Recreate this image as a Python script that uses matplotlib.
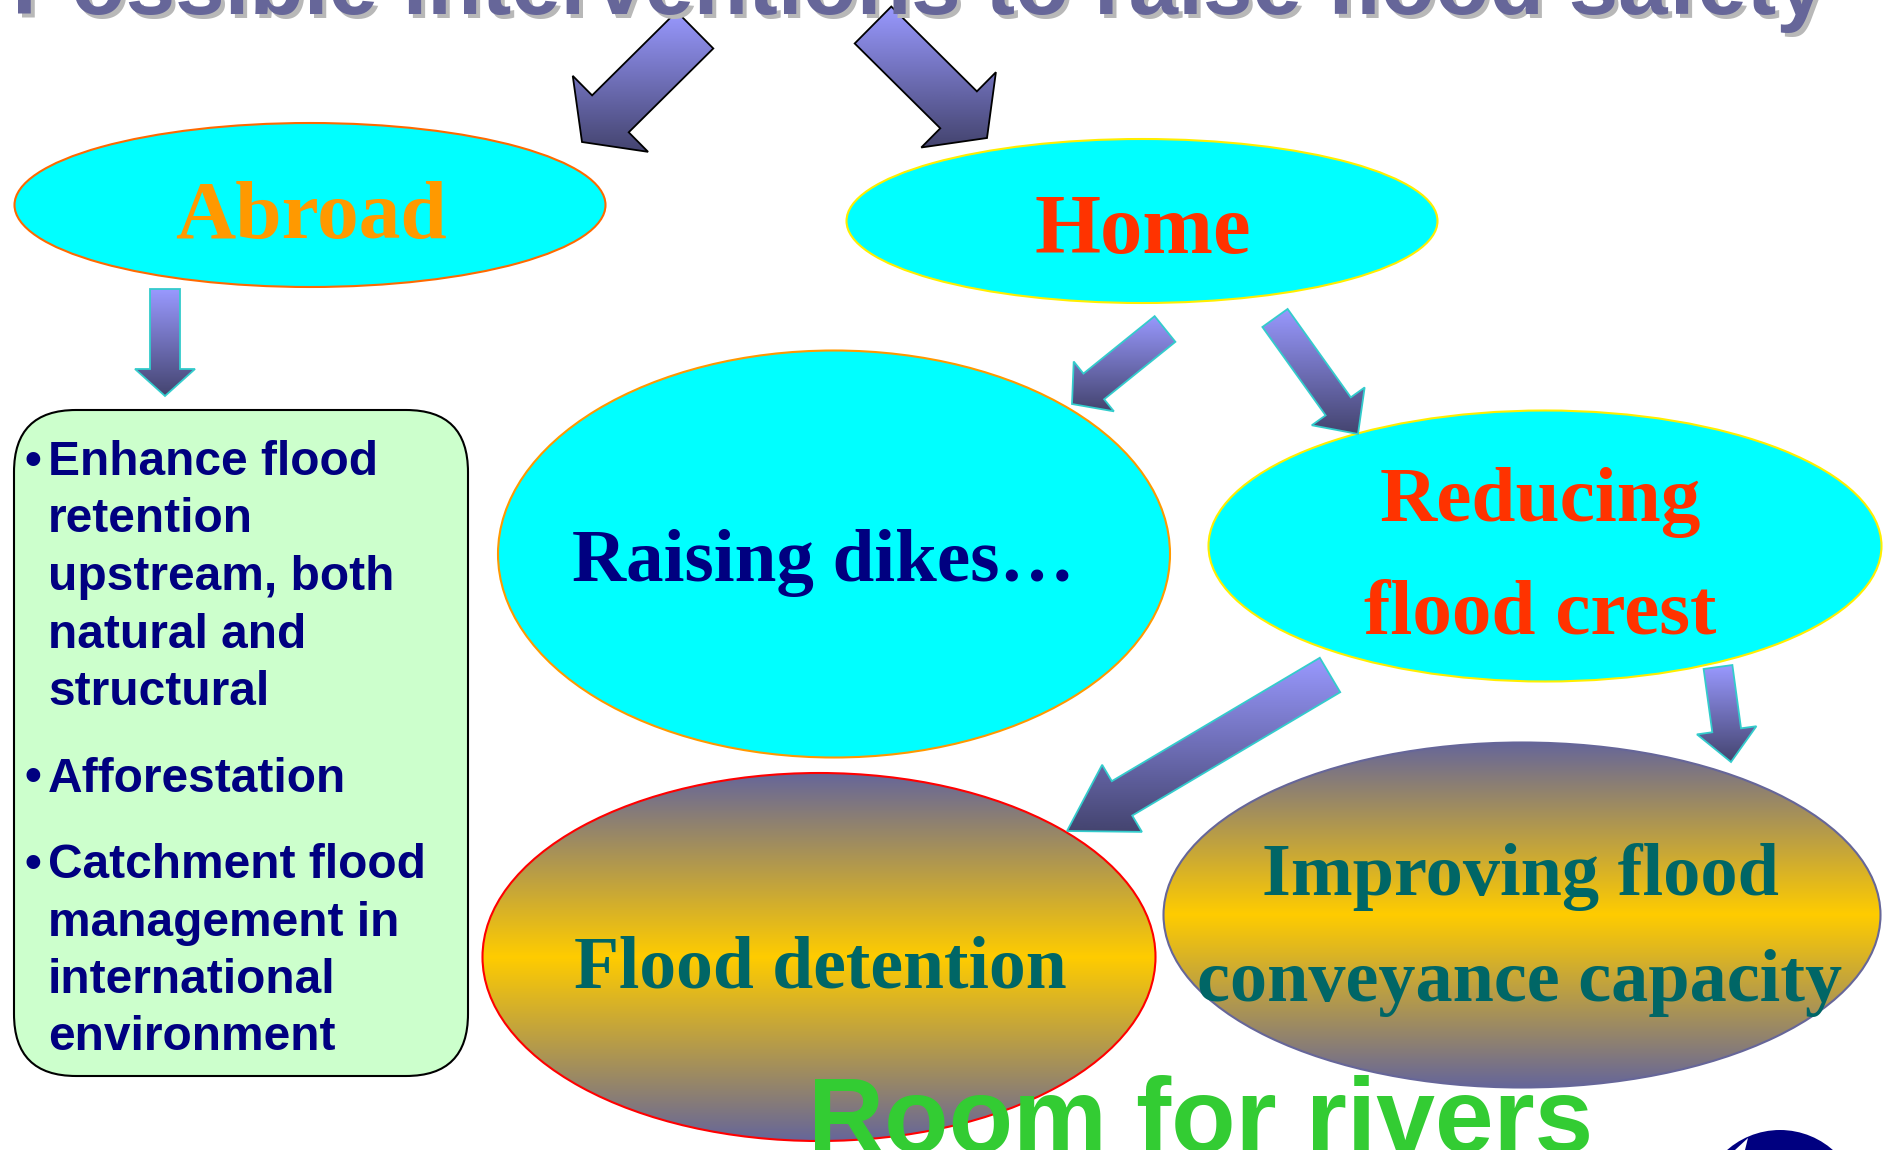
import numpy as np
import matplotlib.pyplot as plt
from matplotlib.patches import Ellipse, Polygon, FancyBboxPatch, Circle, Wedge
from matplotlib.colors import LinearSegmentedColormap

# text content
title = "Possible interventions to raise flood safety"
footer = "Room for rivers"
node_labels = ["Abroad", "Home", "Raising dikes…", ["Reducing", "flood crest"],
               "Flood detention", ["Improving flood", "conveyance capacity"]]
bullet_items = [["Enhance flood", "retention", "upstream, both", "natural and", "structural"],
                ["Afforestation"],
                ["Catchment flood", "management in", "international", "environment"]]

# layout (pixel coords, y down)
W, H = 1891, 1150
node_geom = [(310, 205, 591, 164), (1142, 221, 591, 164), (834, 554, 672, 407),
             (1545, 546, 673, 271), (819, 957, 673, 368), (1522, 915, 717, 345)]
node_edge = ["#ff6a00", "#ffee00", "#ff9900", "#ffee00", "#ff0000", "#666699"]
node_fill = ["#00ffff", "#00ffff", "#00ffff", "#00ffff", "grad", "grad"]
node_tcol = ["#ff9900", "#ff3300", "#000080", "#ff3300", "#006666", "#006666"]
node_fs = [60, 61, 54, 57, 53, 53.5]
node_tx = [311, 1143, 823, 1540, 820, 1520]
node_base = [[238], [253], [581], [521, 633], [987], [895, 1001]]

# arrows: tail, tip, shaft width, head width, head length, edge colour
arrows = [((695, 30), (582, 142), 52, 107, 40, "black"),
          ((873, 25), (987, 138), 52, 106, 40, "black"),
          ((165, 289), (165, 396), 30, 60, 27, "#33cccc"),
          ((1165, 329), (1072, 404), 33, 64, 28, "#33cccc"),
          ((1275, 318), (1358, 434), 31, 65, 34, "#33cccc"),
          ((1330, 675), (1067, 831), 40, 78, 64, "#33cccc"),
          ((1718, 667), (1731, 762), 29, 60, 32, "#33cccc")]


def grad_fill(ax, patch, colors, stops, x0, x1, y0, y1, z):
    cmap = LinearSegmentedColormap.from_list("g", list(zip(stops, colors)))
    g = np.linspace(0, 1, 256).reshape(-1, 1)
    im = ax.imshow(g, cmap=cmap, extent=(x0, x1, y1, y0), origin="upper",
                   aspect="auto", zorder=z, interpolation="bilinear")
    im.set_clip_path(patch)


def block_arrow(tail, tip, sw, hw, hl):
    tail = np.array(tail, float)
    tip = np.array(tip, float)
    d = tip - tail
    u = d / np.linalg.norm(d)
    n = np.array([-u[1], u[0]])
    base = tip - u * hl
    return np.array([tail + n * sw / 2, base + n * sw / 2, base + n * hw / 2, tip,
                     base - n * hw / 2, base - n * sw / 2, tail - n * sw / 2])


fig = plt.figure(figsize=(W / 100, H / 100), dpi=100)
ax = fig.add_axes([0, 0, 1, 1])
ax.axis("off")

# title with shadow, mostly cut by the top edge
for dx, col in [(4, "#b8b8b8"), (0, "#666699")]:
    ax.text(12 + dx, 14 + dx, title, fontsize=64, fontweight="bold", family="Liberation Sans",
            color=col, ha="left", va="baseline", zorder=5)

# ellipses
for i, (cx, cy, w, h) in enumerate(node_geom):
    if node_fill[i] == "grad":
        e = Ellipse((cx, cy), w, h, facecolor="none", edgecolor=node_edge[i], lw=1.5, zorder=2.1)
        ax.add_patch(e)
        grad_fill(ax, e, ["#666699", "#ffcc00", "#666699"], [0, 0.5, 1],
                  cx - w / 2, cx + w / 2, cy - h / 2, cy + h / 2, 2)
    else:
        ax.add_patch(Ellipse((cx, cy), w, h, facecolor=node_fill[i], edgecolor=node_edge[i],
                             lw=1.5, zorder=2))
    lab = node_labels[i]
    lines = lab if isinstance(lab, list) else [lab]
    for line, yb in zip(lines, node_base[i]):
        ax.text(node_tx[i], yb, line, fontsize=node_fs[i], fontweight="bold",
                family="Liberation Serif", color=node_tcol[i], ha="center", va="baseline", zorder=4)

# arrows
for tail, tip, sw, hw, hl, ec in arrows:
    pts = block_arrow(tail, tip, sw, hw, hl)
    p = Polygon(pts, closed=True, facecolor="none", edgecolor=ec, lw=1.3, zorder=3.1)
    ax.add_patch(p)
    grad_fill(ax, p, ["#9999ff", "#44446f"], [0, 1],
              pts[:, 0].min(), pts[:, 0].max(), pts[:, 1].min(), pts[:, 1].max(), 3)

# green bullet box
ax.add_patch(FancyBboxPatch((14, 410), 454, 666, boxstyle="round,pad=0,rounding_size=62",
                            facecolor="#ccffcc", edgecolor="black", lw=1.5, zorder=2))
y = 475
for item in bullet_items:
    ax.text(25, y, "•", fontsize=34.5, fontweight="bold", family="Liberation Sans",
            color="#000080", ha="left", va="baseline", zorder=4)
    for line in item:
        ax.text(48, y, line, fontsize=34.5, fontweight="bold", family="Liberation Sans",
                color="#000080", ha="left", va="baseline", zorder=4)
        y += 57.5
    y += 29

# footer
ax.text(1201, 1152, footer, fontsize=76, fontweight="bold", family="Liberation Sans",
        color="#33cc33", ha="center", va="baseline", zorder=5)

# logo, partly visible in the corner
ax.add_patch(Circle((1780, 1210), 80, facecolor="#000080", edgecolor="none", zorder=2))
ax.add_patch(Wedge((1800, 1215), 68, 30, 95, width=5, facecolor="#00ffff", edgecolor="none", zorder=2.1))
ax.add_patch(Polygon([(1735, 1150), (1748, 1138), (1745, 1150)], closed=True,
                     facecolor="white", edgecolor="none", zorder=2.1))

ax.set_xlim(0, W)
ax.set_ylim(H, 0)
fig.savefig("out.png", dpi=100)
